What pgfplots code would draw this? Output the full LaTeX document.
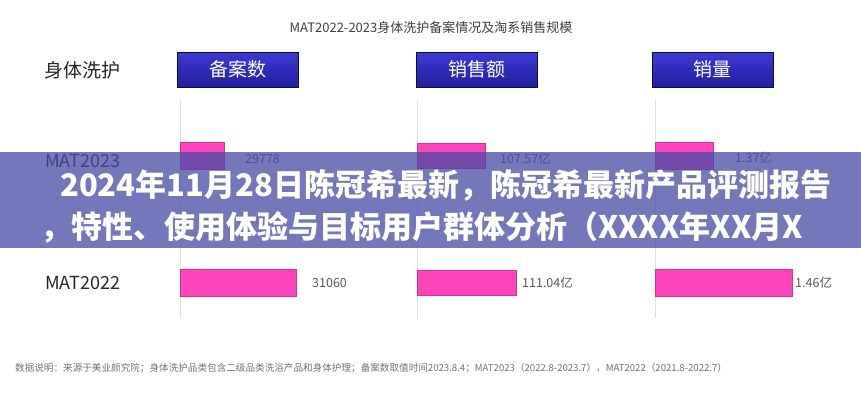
\documentclass[border=0pt]{standalone}
\usepackage{pgfplots}
\pgfplotsset{compat=1.18}
\usepackage{fontspec}
\setmainfont{Noto Sans CJK SC}

\definecolor{barpink}{RGB}{255,68,187}
\definecolor{boxtop}{RGB}{62,58,212}
\definecolor{boxbot}{RGB}{34,30,158}
\definecolor{banner}{RGB}{70,75,165}

% one axis per column; bar lengths as drawn, centres of the two rows
\pgfplotsset{panel/.style={
    anchor=south west, scale only axis,
    width=220pt, height=218pt,
    xmin=0, xmax=220, ymin=82, ymax=300,
    axis x line=none, axis y line*=left,
    y axis line style={black!12, line width=1pt},
    ytick=\empty, clip=false,
    xbar, bar width=27pt, bar shift=0pt,
}}

\begin{document}
\begin{tikzpicture}[x=1pt,y=1pt]
\path[use as bounding box] (0,0) rectangle (861,400);
\fill[white] (0,0) rectangle (861,400);

\node[text=black!75, font=\fontsize{13}{15}\selectfont] at (431,372)
  {MAT2022-2023身体洗护备案情况及淘系销售规模};
\node[text=black!85, font=\fontsize{19}{21}\selectfont, anchor=west, inner sep=0pt] at (44,330) {身体洗护};

% column headers
\foreach \x/\t in {177/备案数, 416/销售额, 652/销量}{
  \shade[top color=boxtop, bottom color=boxbot, draw=black!60!boxbot]
    (\x,313) rectangle ++(121,35);
  \node[text=white, font=\fontsize{19}{21}\selectfont] at (\x+60.5,330.5) {\t};
}

% row labels
\node[text=black!85, font=\fontsize{18}{20}\selectfont, anchor=west, inner sep=0pt] at (45,239) {MAT2023};
\node[text=black!85, font=\fontsize{18}{20}\selectfont, anchor=west, inner sep=0pt] at (45,117) {MAT2022};

% 备案数
\begin{axis}[panel, at={(180,82)}]
  \addplot[fill=barpink, draw=barpink!80!black] coordinates {(116,117) (44,244)};
  \node[text=black!65, font=\fontsize{12.5}{14}\selectfont, anchor=west, inner sep=0pt] at (axis cs:132,117) {31060};
  \node[text=black!65, font=\fontsize{12.5}{14}\selectfont, anchor=west, inner sep=0pt] at (axis cs:65,241) {29778};
\end{axis}
% 销售额
\begin{axis}[panel, at={(417.5,82)}]
  \addplot[fill=barpink, draw=barpink!80!black, bar width=25pt] coordinates {(98.5,117) (67.5,244)};
  \node[text=black!65, font=\fontsize{12.5}{14}\selectfont, anchor=west, inner sep=0pt] at (axis cs:104.5,117) {111.04亿};
  \node[text=black!65, font=\fontsize{12.5}{14}\selectfont, anchor=west, inner sep=0pt] at (axis cs:82.5,241) {107.57亿};
\end{axis}
% 销量
\begin{axis}[panel, at={(655,82)}]
  \addplot[fill=barpink, draw=barpink!80!black] coordinates {(137,117) (58,244)};
  \node[text=black!65, font=\fontsize{12.5}{14}\selectfont, anchor=west, inner sep=0pt] at (axis cs:140,117) {1.46亿};
  \node[text=black!65, font=\fontsize{12.5}{14}\selectfont, anchor=west, inner sep=0pt] at (axis cs:80,242) {1.37亿};
\end{axis}

\node[text=black!55, font=\fontsize{9.6}{11}\selectfont, anchor=west, inner sep=0pt] at (15,32)
  {数据说明：来源于美业颜究院；身体洗护品类包含二级品类洗浴产品和身体护理；备案数取值时间2023.8.4；MAT2023（2022.8-2023.7），MAT2022（2021.8-2022.7）};

% headline banner laid over the chart
\fill[banner, fill opacity=0.75] (0,152) rectangle (861,248);
\node[text=white, font=\fontsize{31}{33}\bfseries, anchor=west, inner sep=0pt] at (60,215)
  {2024年11月28日陈冠希最新，陈冠希最新产品评测报告};
\node[text=white, font=\fontsize{31}{33}\bfseries, anchor=west, inner sep=0pt] at (40,173)
  {，特性、使用体验与目标用户群体分析（XXXX年XX月X};
\end{tikzpicture}
\end{document}
